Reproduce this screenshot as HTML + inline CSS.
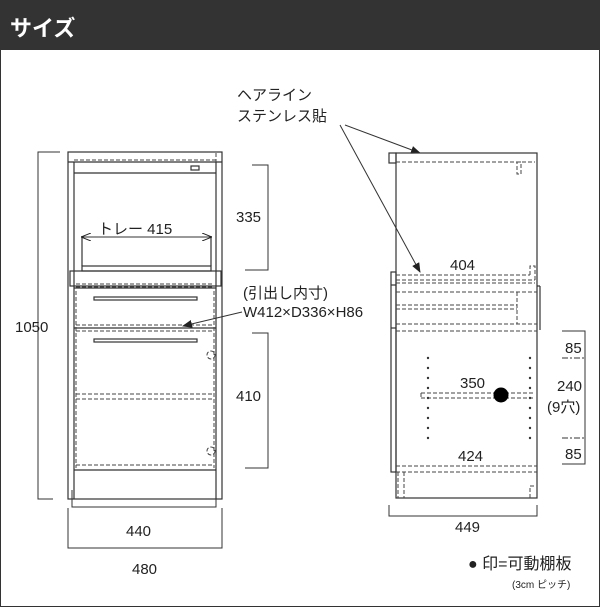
<!DOCTYPE html>
<html><head><meta charset="utf-8"><style>
body{margin:0;background:#fff;}
svg{display:block;font-family:"Liberation Sans","Noto Sans CJK JP",sans-serif;}
</style></head><body>
<svg width="600" height="607" viewBox="0 0 600 607" xmlns="http://www.w3.org/2000/svg">
<defs><marker id="ar" markerWidth="10" markerHeight="8" refX="9" refY="4" orient="auto" markerUnits="userSpaceOnUse"><path d="M0,0 L10,4 L0,8 z" fill="#222"/></marker>
<marker id="ar2" markerWidth="10" markerHeight="8" refX="1" refY="4" orient="auto" markerUnits="userSpaceOnUse"><path d="M10,0 L0,4 L10,8" fill="none" stroke="#222"/></marker>
<marker id="ar3" markerWidth="10" markerHeight="8" refX="9" refY="4" orient="auto" markerUnits="userSpaceOnUse"><path d="M0,0 L10,4 L0,8" fill="none" stroke="#222"/></marker></defs>
<rect x="0.5" y="0.5" width="599" height="606" fill="#fff" stroke="#333"/>
<rect x="0" y="0" width="600" height="50" fill="#333"/>
<text x="10" y="36" fill="#fff" font-size="22" font-weight="bold">サイズ</text>
<g fill="none" stroke="#333" stroke-width="1.2">
<rect x="68" y="152" width="154" height="347"/>
<line x1="74" y1="162" x2="74" y2="499"/><line x1="216" y1="162" x2="216" y2="499"/>
<line x1="68" y1="162" x2="222" y2="162"/>
<line x1="74" y1="173" x2="216" y2="173"/>
<rect x="191" y="166" width="8" height="4"/>
<rect x="82" y="266" width="129" height="5"/>
<line x1="82" y1="236" x2="82" y2="266"/><line x1="211" y1="236" x2="211" y2="266"/>
<rect x="70" y="271" width="151" height="15"/>
<line x1="74" y1="288" x2="216" y2="288"/><line x1="74" y1="328" x2="216" y2="328"/>
<line x1="74" y1="470" x2="216" y2="470"/>
<rect x="94" y="297" width="103" height="3"/>
<rect x="94" y="339" width="103" height="3"/>
</g>
<g fill="none" stroke="#444" stroke-dasharray="4,2" stroke-width="1">
<line x1="74" y1="160" x2="216" y2="160"/>
<line x1="216" y1="153" x2="216" y2="162"/>
<line x1="76" y1="284" x2="214" y2="284"/><line x1="76" y1="287" x2="214" y2="287"/>
<line x1="76" y1="325" x2="214" y2="325"/><line x1="76" y1="331" x2="214" y2="331"/>
<line x1="76" y1="291" x2="76" y2="468"/><line x1="214" y1="291" x2="214" y2="468"/>
<line x1="76" y1="394" x2="214" y2="394"/><line x1="76" y1="399" x2="214" y2="399"/>
<line x1="76" y1="465" x2="214" y2="465"/>
<circle cx="211" cy="355" r="4"/><circle cx="211" cy="451" r="4"/>
</g>
<g fill="none" stroke="#333" stroke-width="1">
<polyline points="60,152 38,152 38,499 53,499"/>
<polyline points="252,165 268,165 268,270 245,270"/>
<polyline points="252,333 268,333 268,468 245,468"/>
<line x1="82" y1="237" x2="211" y2="237" marker-start="url(#ar2)" marker-end="url(#ar3)"/>
<polyline points="72,490 72,507 216,507 216,490"/>
<polyline points="68,508 68,548 222,548 222,508"/>
<line x1="345" y1="125" x2="420" y2="153" marker-end="url(#ar)"/>
<line x1="340" y1="125" x2="420" y2="272" marker-end="url(#ar)"/>
<line x1="242" y1="312" x2="183" y2="326" marker-end="url(#ar)"/>
</g>
<g font-size="15" fill="#222">
<text x="15" y="332">1050</text>
<text x="236" y="222">335</text>
<text x="236" y="401">410</text>
<text x="98" y="234">トレー 415</text>
<text x="126" y="536">440</text>
<text x="132" y="574">480</text>
<text x="237" y="100">ヘアライン</text>
<text x="237" y="121">ステンレス貼</text>
<text x="243" y="298">(引出し内寸)</text>
<text x="243" y="317">W412×D336×H86</text>
<text x="450" y="270">404</text>
<text x="460" y="388">350</text>
<text x="458" y="461">424</text>
<text x="455" y="532">449</text>
<text x="565" y="353">85</text>
<text x="557" y="391">240</text>
<text x="547" y="412">(9穴)</text>
<text x="565" y="459">85</text>
<text x="468" y="569" font-size="16">● 印=可動棚板</text>
<text x="512" y="588" font-size="10">(3cm ピッチ)</text>
</g>
<g fill="none" stroke="#333" stroke-width="1.2">
<rect x="396" y="153" width="141" height="345"/>
<rect x="389" y="153" width="7" height="10"/>
<rect x="391" y="272" width="5" height="200"/>
<line x1="391" y1="285" x2="396" y2="285"/><line x1="391" y1="328" x2="396" y2="328"/>
<line x1="537" y1="286" x2="540" y2="286"/><line x1="540" y1="286" x2="540" y2="330"/>
</g>
<g fill="none" stroke="#444" stroke-dasharray="4,2" stroke-width="1">
<line x1="396" y1="162" x2="535" y2="162"/>
<rect x="517" y="162" width="4" height="12"/>
<line x1="396" y1="275" x2="530" y2="275"/><line x1="396" y1="280" x2="535" y2="280"/><line x1="396" y1="283" x2="535" y2="283"/>
<polyline points="530,275 530,266 535,266 535,280"/>
<line x1="396" y1="292" x2="537" y2="292"/>
<line x1="396" y1="305" x2="517" y2="305"/><line x1="396" y1="309" x2="517" y2="309"/>
<line x1="517" y1="292" x2="517" y2="324"/>
<line x1="396" y1="324" x2="537" y2="324"/><line x1="396" y1="331" x2="537" y2="331"/>
<line x1="421" y1="393" x2="535" y2="393"/><line x1="421" y1="398" x2="535" y2="398"/><line x1="421" y1="393" x2="421" y2="398"/>
<line x1="396" y1="466" x2="537" y2="466"/><line x1="396" y1="472" x2="537" y2="472"/>
<line x1="398" y1="472" x2="398" y2="498"/><line x1="404" y1="472" x2="404" y2="498"/>
<polyline points="530,498 530,486 534,486"/>
</g>
<g fill="#333">
<circle cx="501" cy="395" r="7.5" fill="#000"/>
<g id="dots"><circle cx="428" cy="358" r="1.2"/><circle cx="428" cy="368" r="1.2"/><circle cx="428" cy="378" r="1.2"/><circle cx="428" cy="388" r="1.2"/><circle cx="428" cy="398" r="1.2"/><circle cx="428" cy="408" r="1.2"/><circle cx="428" cy="418" r="1.2"/><circle cx="428" cy="428" r="1.2"/><circle cx="428" cy="438" r="1.2"/></g>
<use href="#dots" x="102"/>
</g>
<g fill="none" stroke="#333" stroke-width="1">
<polyline points="562,331 585,331 585,464 562,464"/>
<line x1="562" y1="358" x2="585" y2="358" stroke-dasharray="6,2,2,2"/>
<line x1="562" y1="438" x2="585" y2="438" stroke-dasharray="6,2,2,2"/>
<polyline points="389,505 389,516 537,516 537,505"/>
</g>
</svg>
</body></html>
